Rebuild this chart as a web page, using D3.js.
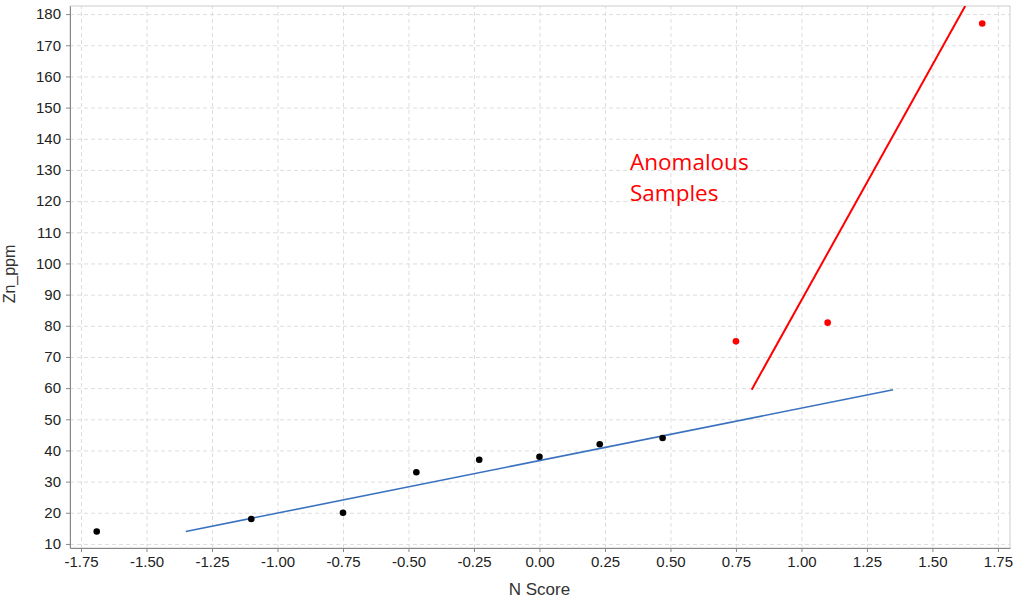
<!DOCTYPE html>
<html>
<head>
<meta charset="utf-8">
<script src="https://cdnjs.cloudflare.com/ajax/libs/d3/7.8.5/d3.min.js"></script>
<style>
  body { margin: 0; background: #fff; }
  .axis text { font-family: "Liberation Sans", Arial, sans-serif; font-size: 15px; fill: #222; }
  .axis path, .axis line { stroke: #888; }
  .grid line { stroke: #ddd; stroke-dasharray: 4 3; }
  .grid path { display: none; }
</style>
</head>
<body>
<div id="chart"></div>
<script>
// normal samples
var nScore = [-1.69, -1.10, -0.75, -0.47, -0.23, 0.00, 0.23, 0.47];
var znPpm = [14, 18, 20, 33, 37, 38, 42, 44];
// anomalous samples
var anomScore = [0.75, 1.10, 1.69];
var anomZn = [75, 81, 177];
// trend line and anomaly line end points
var trendX = [-1.35, 1.35];
var trendY = [14, 59.5];
var anomLineX = [0.81, 1.625];
var anomLineY = [59.5, 182.6];
var xTicks = [-1.75, -1.5, -1.25, -1, -0.75, -0.5, -0.25, 0, 0.25, 0.5, 0.75, 1, 1.25, 1.5, 1.75];
var yTicks = d3.range(10, 181, 10);

var W = 1017, H = 602;
var margin = {top: 6, right: 7, bottom: 54, left: 70};
var w = W - margin.left - margin.right;
var h = H - margin.top - margin.bottom;

var svg = d3.select("#chart").append("svg")
  .attr("width", W).attr("height", H)
  .append("g")
  .attr("transform", "translate(" + margin.left + "," + margin.top + ")");

var x = d3.scaleLinear().domain([-1.792, 1.796]).range([0, w]);
var y = d3.scaleLinear().domain([8.7, 182.6]).range([h, 0]);

// frame
svg.append("rect")
  .attr("width", w).attr("height", h)
  .attr("fill", "none").attr("stroke", "#ccc");

// grid
svg.append("g").attr("class", "grid")
  .attr("transform", "translate(0," + h + ")")
  .call(d3.axisBottom(x).tickValues(xTicks).tickSize(-h).tickFormat(""));
svg.append("g").attr("class", "grid")
  .call(d3.axisLeft(y).tickValues(yTicks).tickSize(-w).tickFormat(""));

// axes
svg.append("g").attr("class", "axis")
  .attr("transform", "translate(0," + h + ")")
  .call(d3.axisBottom(x).tickValues(xTicks).tickSize(4).tickPadding(4).tickSizeOuter(0).tickFormat(d3.format(".2f")))
  .selectAll("text").text(function(d) { return d3.format(".2f")(d).replace("\u2212", "-"); });
svg.append("g").attr("class", "axis")
  .call(d3.axisLeft(y).tickValues(yTicks).tickSize(4).tickPadding(5).tickSizeOuter(0));

// axis labels
svg.append("text")
  .attr("x", x(0)).attr("y", h + 47)
  .attr("text-anchor", "middle")
  .style("font-family", "Liberation Sans, Arial, sans-serif").style("font-size", "17px").style("fill", "#333")
  .text("N Score");
svg.append("text")
  .attr("transform", "translate(" + (-55) + "," + (h / 2 - 3) + ") rotate(-90)")
  .attr("text-anchor", "middle")
  .style("font-family", "Liberation Sans, Arial, sans-serif").style("font-size", "16px").style("fill", "#333")
  .text("Zn_ppm");

var clip = svg.append("clipPath").attr("id", "clip")
  .append("rect").attr("width", w).attr("height", h);

var plot = svg.append("g").attr("clip-path", "url(#clip)");

// trend line
plot.append("line")
  .attr("x1", x(trendX[0])).attr("y1", y(trendY[0]))
  .attr("x2", x(trendX[1])).attr("y2", y(trendY[1]))
  .attr("stroke", "#3a72c0").attr("stroke-width", 1.6);

// anomaly pointer
plot.append("line")
  .attr("x1", x(anomLineX[0])).attr("y1", y(anomLineY[0]))
  .attr("x2", x(anomLineX[1])).attr("y2", y(anomLineY[1]))
  .attr("stroke", "#ff0000").attr("stroke-width", 2);

// points
plot.selectAll(".pt")
  .data(nScore)
  .enter().append("circle")
  .attr("cx", function(d) { return x(d); })
  .attr("cy", function(d, i) { return y(znPpm[i]); })
  .attr("r", 3.3)
  .attr("fill", "#000");

plot.selectAll(".apt")
  .data(anomScore)
  .enter().append("circle")
  .attr("cx", function(d) { return x(d); })
  .attr("cy", function(d, i) { return y(anomZn[i]); })
  .attr("r", 3.3)
  .attr("fill", "#ff0000");

// annotation
var ann = svg.append("text")
  .attr("x", 560).attr("y", 164)
  .style("font-family", "Open Sans, Noto Sans, sans-serif").style("font-size", "22.5px").style("fill", "#ff0000");
ann.append("tspan").attr("x", 560).text("Anomalous");
ann.append("tspan").attr("x", 560).attr("dy", 31).text("Samples");
</script>
</body>
</html>
